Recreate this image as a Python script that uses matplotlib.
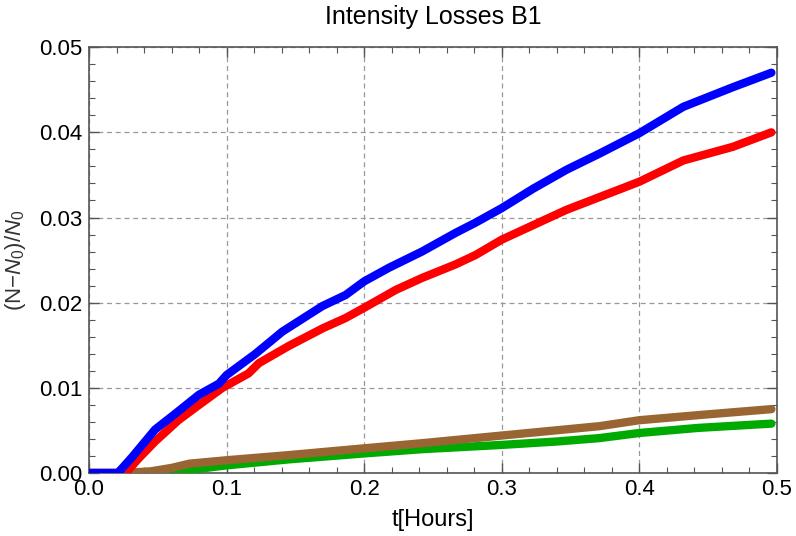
import numpy as np
import matplotlib.pyplot as plt
from matplotlib.ticker import MultipleLocator

plt.rcParams['font.family'] = ['Liberation Sans', 'DejaVu Sans']
plt.rcParams['mathtext.fontset'] = 'custom'
plt.rcParams['mathtext.rm'] = 'Liberation Sans'
plt.rcParams['mathtext.it'] = 'Liberation Sans:italic'

# values (t in hours, relative loss)
t_blue = [0.0, 0.021, 0.0315, 0.048, 0.063, 0.080, 0.0945, 0.100, 0.121, 0.1405, 0.1696, 0.1865,
          0.200, 0.218, 0.242, 0.2665, 0.281, 0.300, 0.323, 0.347, 0.371, 0.400, 0.432, 0.468, 0.496]
loss_blue = [0.0, 0.0, 0.0019, 0.0051, 0.0070, 0.0092, 0.0105, 0.0115, 0.0140, 0.0166, 0.0196, 0.0209,
             0.0225, 0.0241, 0.0260, 0.0282, 0.0294, 0.0311, 0.0334, 0.0356, 0.0375, 0.0399, 0.0430, 0.0453, 0.0470]

t_red = [0.0, 0.0267, 0.036, 0.048, 0.065, 0.080, 0.097, 0.116, 0.1235, 0.145, 0.170, 0.1865,
         0.200, 0.223, 0.242, 0.2665, 0.281, 0.300, 0.347, 0.400, 0.432, 0.468, 0.496]
loss_red = [0.0, 0.0, 0.0017, 0.0037, 0.0062, 0.0080, 0.0100, 0.0117, 0.0129, 0.0149, 0.0170, 0.0182,
            0.0194, 0.0215, 0.0229, 0.0245, 0.0256, 0.0274, 0.0309, 0.0342, 0.0367, 0.0383, 0.0400]

t_brown = [0.0, 0.025, 0.045, 0.060, 0.073, 0.100, 0.145, 0.200, 0.242, 0.300, 0.371, 0.400, 0.443, 0.496]
loss_brown = [0.0, 0.0, 0.0002, 0.0006, 0.0011, 0.0015, 0.0021, 0.0029, 0.0035, 0.0044, 0.0055, 0.0062, 0.0068, 0.0075]

t_green = [0.0, 0.058, 0.075, 0.100, 0.145, 0.200, 0.242, 0.300, 0.340, 0.371, 0.400, 0.443, 0.496]
loss_green = [0.0, 0.0, 0.0004, 0.0009, 0.0016, 0.0023, 0.0028, 0.0033, 0.0037, 0.0041, 0.0047, 0.0053, 0.0058]

fig = plt.figure(figsize=(7.96, 5.36), dpi=100)
ax = fig.add_axes([0.1118, 0.1175, 0.8642, 0.7945])

lw = 6
ax.plot(t_green, loss_green, color='#00aa00', lw=lw, solid_capstyle='round', zorder=3)
ax.plot(t_brown, loss_brown, color='#996633', lw=lw, solid_capstyle='round', zorder=4)
ax.plot(t_red, loss_red, color='#ff0000', lw=lw, solid_capstyle='round', zorder=5)
ax.plot(t_blue, loss_blue, color='#0000ff', lw=lw, solid_capstyle='round', zorder=6)

ax.set_xlim(0, 0.5)
ax.set_ylim(0, 0.05)
ax.xaxis.set_major_locator(MultipleLocator(0.1))
ax.xaxis.set_minor_locator(MultipleLocator(0.02))
ax.yaxis.set_major_locator(MultipleLocator(0.01))
ax.yaxis.set_minor_locator(MultipleLocator(0.002))
ax.xaxis.set_major_formatter(plt.FuncFormatter(lambda v, p: f'{v:.1f}'))
ax.yaxis.set_major_formatter(plt.FuncFormatter(lambda v, p: f'{v:.2f}'))

ax.grid(True, which='major', color='#999999', linestyle=(0, (4, 3)), lw=0.9)
ax.tick_params(which='both', direction='in', top=True, right=True, colors='#555555',
               labelcolor='black', labelsize=16)
ax.tick_params(which='major', length=7, width=1)
ax.tick_params(which='minor', length=4, width=0.8)
ax.tick_params(axis='x', pad=4)
ax.tick_params(axis='y', pad=5)
for s in ax.spines.values():
    s.set_color('#555555')
    s.set_linewidth(1.2)

ax.set_title('Intensity Losses B1', fontsize=18, pad=17)
ax.set_xlabel('t[Hours]', fontsize=17, labelpad=7)
ax.set_ylabel(r'(N$-$$\mathit{N}_0$)/$\mathit{N}_0$', fontsize=16, color='#333333', labelpad=8)

fig.savefig('out.png', dpi=100)
